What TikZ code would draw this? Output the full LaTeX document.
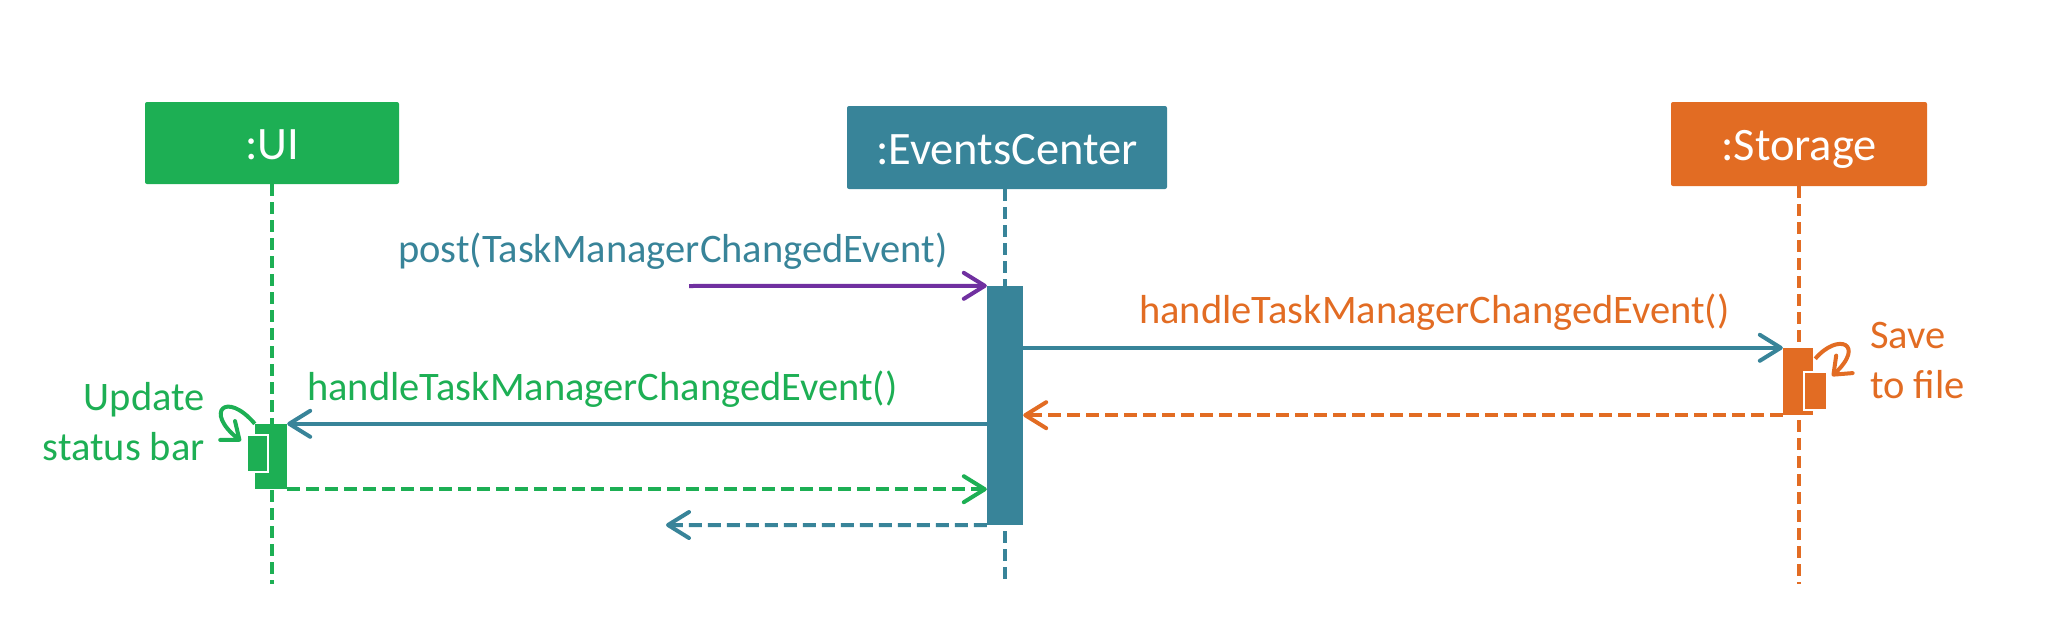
\documentclass[tikz,border=0pt]{standalone}
\usepackage{fontspec}
\setmainfont{Carlito}
\usetikzlibrary{arrows.meta,calc}
\definecolor{cgreen}{RGB}{29,175,84}
\definecolor{cteal}{RGB}{56,132,153}
\definecolor{corange}{RGB}{226,108,35}
\definecolor{cpurple}{RGB}{112,48,160}
\begin{document}
\begin{tikzpicture}[x=1pt,y=-1pt,
  objbox/.style={rectangle, rounded corners=2pt, inner sep=0pt, text=white,
    font=\fontsize{46.5}{52}\selectfont, text height=33pt, text depth=0pt},
  lifeln/.style={line width=4pt, dash pattern=on 12pt off 6pt},
  actbar/.style={rectangle, inner sep=0pt, draw=none},
  subact/.style={rectangle, inner sep=0pt, draw=white, line width=2pt},
  msgtxt/.style={font=\fontsize{40.5}{50}\selectfont, inner sep=0pt},
  call/.style={line width=4pt, -{Straight Barb[length=21pt,width=26pt,round]}},
  reply/.style={call, dash pattern=on 13pt off 6pt},
  selfcall/.style={line width=4pt, -{Straight Barb[length=15pt,width=24pt,round]}},
]
\useasboundingbox (0,0) rectangle (2050,642);

% object boxes
\node[objbox, fill=cgreen, minimum width=254pt, minimum height=82pt] (ui) at (272,143) {:UI};
\node[objbox, fill=cteal, minimum width=320pt, minimum height=83pt] (ec) at (1007,147.5) {:EventsCenter};
\node[objbox, fill=corange, minimum width=256pt, minimum height=84pt] (st) at (1799,144) {:Storage};

% lifeline ends
\coordinate (uiend) at (272,584);
\coordinate (ecend) at (1005,585);
\coordinate (stend) at (1799,584);

\draw[lifeln, cgreen] (ui.south) -- (uiend);
\draw[lifeln, cteal] (ec.south -| ecend) -- (ecend);
\draw[lifeln, corange] (st.south) -- (stend);

% activations
\node[actbar, fill=cteal, minimum width=36pt, minimum height=239pt] (ecA) at (1005,405.5) {};
\node[actbar, fill=cgreen, minimum width=32pt, minimum height=65pt] (uiA) at (271,456.5) {};
\node[subact, fill=cgreen, minimum width=21pt, minimum height=37pt] (uiB) at (257.5,453.5) {};
\node[actbar, fill=corange, minimum width=30pt, minimum height=67pt] (stA) at (1798,381.5) {};
\node[subact, fill=corange, minimum width=23pt, minimum height=38pt] (stB) at (1815.5,391) {};

% free ends
\coordinate (src) at (689,286);
\coordinate (ret) at (666,525);

% messages
\draw[call, cpurple] (src) -- (ecA.north west);
\draw[call, cteal] (ecA.east |- stA.north) -- (stA.north west);
\draw[reply, corange] (stA.south west) -- (ecA.east |- stA.south);
\draw[call, cteal] (ecA.west |- uiA.north) -- (uiA.north east);
\draw[reply, cgreen] (uiA.south east) -- (ecA.west |- uiA.south);
\draw[reply, cteal] (ecA.south west) -- (ret);

% self calls
\draw[selfcall, cgreen] (uiA.north west) .. controls (226,390) and (204,412) .. ($(uiB.north west)+(-5,7)$);
\draw[selfcall, corange] ($(stA.north east)+(2,11)$) .. controls (1838,332) and (1866,344) .. ($(stB.north east)+(4,5)$);

% labels
\node[msgtxt, text=cteal, anchor=base west] (lpost) at (398,262) {post(TaskManagerChangedEvent)};
\node[msgtxt, text=corange, anchor=base west] (lst) at (1139,323) {handleTaskManagerChangedEvent()};
\node[msgtxt, text=cgreen, anchor=base west] (lui) at (307,400) {handleTaskManagerChangedEvent()};
\node[msgtxt, text=cgreen, anchor=base east] (lupd1) at (205,410) {Update};
\node[msgtxt, text=cgreen, anchor=base east] (lupd2) at (205,460) {status bar};
\node[msgtxt, text=corange, anchor=base west] (lsave1) at (1870,348) {Save};
\node[msgtxt, text=corange, anchor=base west] (lsave2) at (1870,398) {to file};
\end{tikzpicture}
\end{document}
